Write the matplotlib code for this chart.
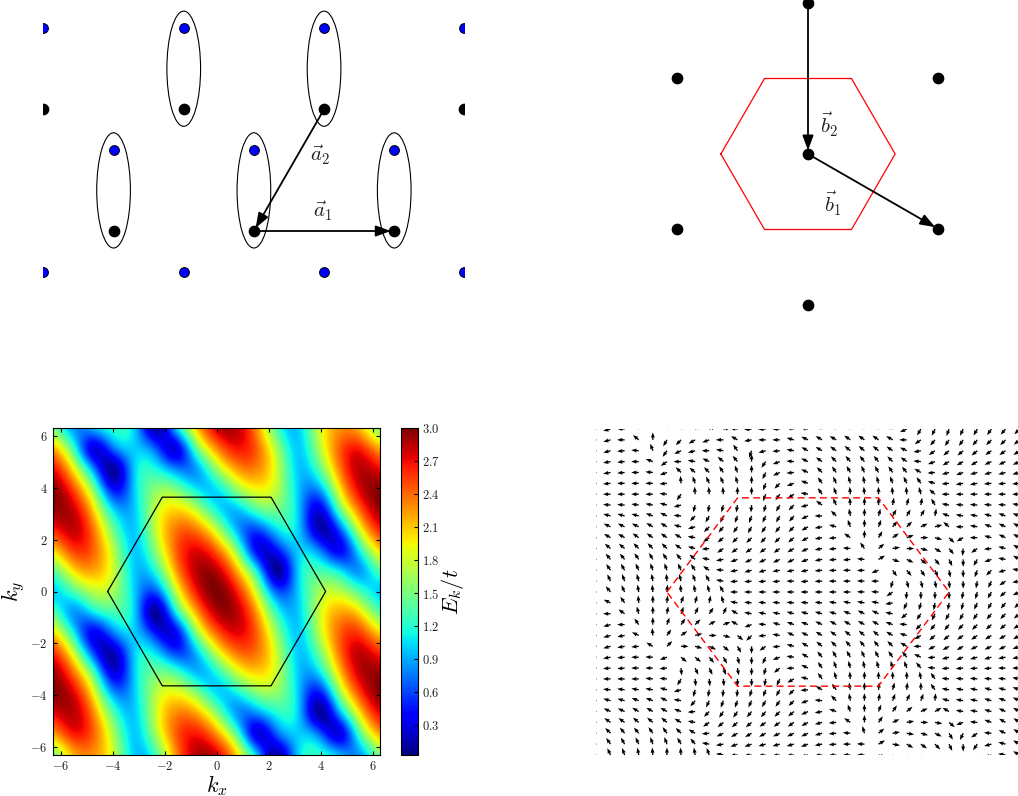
import numpy as np
import matplotlib
matplotlib.use("Agg")
import matplotlib.pyplot as plt
from matplotlib.patches import Ellipse

plt.rcParams["mathtext.fontset"] = "cm"
plt.rcParams["font.family"] = ["cmr10", "DejaVu Sans"]
plt.rcParams["axes.formatter.use_mathtext"] = True

W, H = 1018, 796

# real space lattice (lattice constant = 1)
black_x = [0, 1, 2, 3, 0.5, 1.5, 2.5]
black_y = [0.866, 0.866, 0.866, 0.866, 0, 0, 0]
blue_x = [0, 1, 2, 3, 0.5, 1.5, 2.5, 0, 1, 2, 3]
blue_y = [1.443, 1.443, 1.443, 1.443, 0.577, 0.577, 0.577, -0.289, -0.289, -0.289, -0.289]
dimer_x = [0.5, 1.5, 2.5, 1, 2]
dimer_y = [0.289, 0.289, 0.289, 1.155, 1.155]
a1_start, a1_end = (1.5, 0), (2.5, 0)
a2_start, a2_end = (2, 0.866), (1.5, 0)

# reciprocal lattice
recip_x = [0, -6.28, 6.26, 0, -6.28, 6.26, 0]
recip_y = [7.26, 3.63, 3.63, 0, -3.6, -3.6, -7.26]
b1_start, b1_end = (0, 0), (6.26, -3.6)
b2_start, b2_end = (0, 7.26), (0, 0)
hex_x = [-4.19, -2.09, 2.09, 4.19, 2.09, -2.09, -4.19]
hex_y = [0, 3.63, 3.63, 0, -3.63, -3.63, 0]

# E_k/t read on a pi/4 grid, top row is ky = +2pi, left column kx = -2pi
energy = np.array([
    [1.53, .85, .94, 1.22, 1.0, .12, .94, 2.05, 2.77, 2.85, 2.26, 1.30, 1.0, 1.77, 2.26, 2.15, 1.53],
    [2.19, 1.30, .30, .75, 1.0, .68, .30, 1.39, 2.28, 2.67, 2.41, 1.62, 1.0, 1.65, 2.41, 2.63, 2.19],
    [2.71, 1.96, .80, .12, 1.0, 1.16, .80, .87, 1.62, 2.23, 2.30, 1.76, 1.0, 1.35, 2.30, 2.84, 2.71],
    [2.98, 2.50, 1.51, .42, 1.0, 1.54, 1.51, 1.11, 1.07, 1.60, 1.93, 1.70, 1.0, .85, 1.93, 2.76, 2.98],
    [2.94, 2.80, 2.04, 1.02, 1.0, 1.74, 2.04, 1.76, 1.16, .98, 1.36, 1.46, 1.0, .30, 1.36, 2.39, 2.94],
    [2.61, 2.82, 2.35, 1.43, 1.0, 1.74, 2.35, 2.36, 1.79, .95, .60, 1.05, 1.0, .20, .60, 1.81, 2.61],
    [2.04, 2.53, 2.40, 1.70, 1.0, 1.55, 2.40, 2.74, 2.42, 1.55, .38, .45, 1.0, .80, .38, 1.14, 2.04],
    [1.38, 2.0, 2.19, 1.76, 1.0, 1.19, 2.19, 2.84, 2.85, 2.19, 1.1, .10, 1.0, 1.32, 1.1, .86, 1.37],
    [1.0, 1.34, 1.73, 1.63, 1.0, .65, 1.73, 2.65, 3.0, 2.65, 1.73, .65, 1.0, 1.63, 1.73, 1.34, 1.0],
    [1.37, .86, 1.1, 1.32, 1.0, .10, 1.1, 2.19, 2.85, 2.84, 2.19, 1.19, 1.0, 1.76, 2.19, 2.0, 1.38],
    [2.04, 1.14, .38, .80, 1.0, .45, .38, 1.55, 2.42, 2.74, 2.40, 1.55, 1.0, 1.70, 2.40, 2.53, 2.04],
    [2.61, 1.81, .60, .20, 1.0, 1.05, .60, .95, 1.79, 2.36, 2.35, 1.74, 1.0, 1.43, 2.35, 2.82, 2.61],
    [2.94, 2.39, 1.36, .30, 1.0, 1.46, 1.36, .98, 1.16, 1.76, 2.04, 1.74, 1.0, 1.02, 2.04, 2.80, 2.94],
    [2.98, 2.76, 1.93, .85, 1.0, 1.70, 1.93, 1.60, 1.07, 1.11, 1.51, 1.54, 1.0, .42, 1.51, 2.50, 2.98],
    [2.71, 2.84, 2.30, 1.35, 1.0, 1.76, 2.30, 2.23, 1.62, .87, .80, 1.16, 1.0, .12, .80, 1.96, 2.71],
    [2.19, 2.63, 2.41, 1.65, 1.0, 1.62, 2.41, 2.67, 2.28, 1.39, .30, .68, 1.0, .75, .30, 1.30, 2.19],
    [1.53, 2.15, 2.26, 1.77, 1.0, 1.30, 2.26, 2.85, 2.77, 2.05, .94, .12, 1.0, 1.22, .94, .85, 1.53],
])
energy_ticks = [0.3, 0.6, 0.9, 1.2, 1.5, 1.8, 2.1, 2.4, 2.7, 3.0]
k_ticks = [-6, -4, -2, 0, 2, 4, 6]

# arrow direction in degrees, top row is ky = +2pi, left column kx = -2pi
arrow_deg = np.array([
    [180, 195, 178, 130, 100, 60, 40, 30, 20, 10, 175, 185, 182, 180, 170, 170, 150, 145, 140, 140, 145, 150, 205, 240, 245, 250, 245, 240, 235, 230, 225],
    [180, 195, 180, 140, 90, 240, 225, 210, 200, 180, 150, 190, 180, 180, 165, 155, 150, 150, 145, 145, 145, 150, 180, 215, 230, 235, 235, 230, 225, 225, 220],
    [180, 195, 185, 175, 110, 235, 205, 195, 180, 170, 125, 250, 195, 185, 170, 152, 150, 145, 140, 140, 140, 145, 155, 190, 215, 220, 220, 220, 215, 215, 215],
    [180, 190, 185, 180, 160, 215, 180, 170, 155, 140, 130, 90, 235, 200, 175, 155, 145, 135, 130, 130, 130, 135, 145, 175, 200, 210, 210, 210, 205, 205, 205],
    [180, 190, 185, 180, 175, 200, 135, 140, 135, 125, 110, 90, 245, 205, 185, 155, 135, 125, 120, 115, 120, 125, 130, 150, 185, 195, 200, 195, 195, 195, 195],
    [180, 185, 180, 180, 180, 185, 95, 110, 115, 115, 105, 90, 250, 225, 200, 160, 125, 115, 105, 100, 105, 110, 115, 125, 165, 185, 190, 190, 185, 185, 185],
    [180, 180, 180, 180, 180, 175, 235, 95, 95, 95, 90, 90, 250, 235, 215, 170, 125, 110, 95, 95, 90, 95, 95, 105, 140, 180, 180, 180, 180, 180, 180],
    [180, 175, 175, 172, 170, 165, 195, 255, 260, 255, 260, 265, 255, 240, 225, 195, 145, 115, 95, 90, 90, 80, 75, 80, 120, 170, 175, 175, 175, 175, 170],
    [180, 165, 165, 165, 160, 155, 175, 225, 240, 245, 250, 250, 245, 240, 230, 205, 180, 135, 100, 90, 75, 60, 60, 60, 80, 160, 170, 170, 165, 160, 160],
    [180, 155, 155, 155, 150, 150, 165, 195, 225, 230, 235, 240, 235, 232, 225, 210, 190, 165, 110, 90, 70, 50, 45, 25, 15, 140, 180, 170, 160, 155, 150],
    [180, 150, 150, 145, 145, 145, 150, 170, 215, 220, 225, 225, 225, 225, 220, 208, 190, 185, 145, 90, 60, 35, 20, 0, 345, 315, 210, 180, 165, 155, 150],
    [180, 140, 140, 135, 135, 135, 145, 165, 185, 215, 215, 215, 215, 215, 210, 205, 190, 185, 175, 125, 40, 10, 0, 345, 330, 310, 265, 215, 185, 165, 150],
    [180, 130, 130, 125, 120, 125, 130, 140, 170, 190, 200, 205, 205, 205, 205, 200, 190, 185, 185, 175, 30, 340, 335, 320, 310, 295, 270, 240, 200, 170, 150],
    [180, 125, 120, 115, 110, 110, 115, 125, 145, 175, 190, 195, 195, 190, 190, 190, 185, 182, 180, 182, 200, 305, 310, 305, 295, 280, 270, 250, 225, 195, 170],
    [180, 115, 110, 105, 100, 95, 105, 110, 120, 170, 185, 185, 185, 185, 180, 185, 182, 180, 180, 178, 180, 255, 285, 285, 280, 275, 270, 260, 245, 215, 190],
    [180, 130, 115, 100, 95, 85, 95, 100, 105, 120, 180, 180, 180, 180, 180, 180, 180, 180, 180, 178, 178, 215, 265, 270, 270, 270, 260, 255, 240, 220, 205],
    [180, 155, 125, 95, 90, 85, 70, 75, 80, 105, 170, 175, 175, 175, 175, 175, 175, 172, 170, 170, 170, 190, 245, 255, 260, 260, 255, 245, 240, 230, 225],
    [180, 180, 145, 105, 90, 80, 70, 65, 55, 65, 150, 170, 170, 170, 165, 165, 165, 165, 160, 155, 155, 170, 220, 235, 245, 240, 240, 235, 230, 225, 220],
    [180, 195, 180, 125, 90, 70, 55, 45, 30, 20, 150, 200, 175, 165, 160, 160, 155, 150, 150, 150, 150, 160, 175, 225, 230, 230, 225, 225, 222, 220, 215],
    [180, 195, 190, 155, 95, 55, 35, 15, 0, 345, 320, 225, 185, 170, 155, 155, 150, 145, 140, 140, 140, 150, 165, 210, 220, 220, 215, 215, 212, 210, 210],
    [180, 195, 190, 185, 150, 45, 0, 345, 335, 320, 300, 270, 215, 185, 165, 150, 140, 135, 130, 130, 130, 135, 150, 180, 205, 210, 210, 205, 205, 205, 200],
    [180, 190, 185, 180, 178, 200, 320, 320, 310, 300, 285, 270, 245, 200, 172, 150, 130, 120, 120, 115, 120, 125, 130, 155, 185, 195, 200, 195, 195, 190, 190],
    [180, 185, 185, 180, 180, 185, 275, 295, 295, 290, 280, 270, 255, 219, 182, 155, 125, 110, 105, 100, 105, 105, 110, 130, 175, 185, 185, 185, 185, 180, 180],
    [180, 180, 180, 180, 175, 175, 240, 275, 275, 275, 270, 270, 260, 245, 210, 165, 125, 105, 95, 90, 90, 90, 90, 100, 125, 175, 175, 175, 175, 175, 170],
    [180, 175, 172, 170, 170, 165, 195, 255, 260, 265, 265, 255, 250, 240, 225, 185, 150, 125, 100, 90, 85, 75, 85, 90, 125, 170, 170, 170, 165, 165, 160],
    [180, 165, 165, 160, 160, 155, 170, 230, 245, 250, 250, 245, 240, 235, 225, 200, 175, 135, 100, 90, 80, 70, 65, 70, 85, 165, 170, 170, 165, 160, 155],
    [180, 155, 155, 150, 150, 150, 160, 185, 225, 235, 235, 230, 230, 225, 220, 205, 190, 160, 110, 90, 70, 55, 40, 25, 30, 150, 170, 170, 165, 155, 150],
    [180, 145, 145, 140, 140, 140, 150, 170, 215, 220, 220, 220, 215, 215, 215, 208, 195, 185, 145, 90, 55, 25, 10, 0, 350, 320, 200, 175, 160, 150, 145],
    [180, 135, 130, 130, 125, 125, 135, 150, 185, 205, 210, 210, 208, 205, 205, 205, 195, 185, 175, 105, 40, 10, 350, 345, 335, 300, 245, 215, 175, 155, 145],
    [180, 125, 120, 115, 110, 110, 120, 130, 170, 190, 200, 200, 195, 195, 195, 200, 190, 185, 180, 178, 30, 350, 330, 325, 315, 295, 270, 235, 195, 165, 150],
    [180, 115, 110, 100, 95, 90, 95, 100, 110, 170, 185, 185, 185, 185, 185, 195, 185, 182, 180, 180, 340, 310, 300, 300, 290, 280, 270, 245, 200, 170, 150],
])


def px_axes(fig, left, top, right, bottom):
    # axes placed by pixel edges, y counted from the top of the image
    return fig.add_axes([left / W, 1 - bottom / H, (right - left) / W, (bottom - top) / H])


def vector(ax, start, end):
    ax.annotate("", xy=end, xytext=start,
                arrowprops=dict(arrowstyle="-|>,head_length=0.6,head_width=0.22", color="black", lw=1.3,
                                mutation_scale=15, shrinkA=0, shrinkB=2.5),
                zorder=2)


def main():
    fig = plt.figure(figsize=(W / 100, H / 100), dpi=100)

    # real space
    ax = px_axes(fig, 43.4, 0, 464.4, 300)
    ax.set_xlim(0, 3)
    ax.set_ylim(-0.491, 1.644)
    ax.axis("off")
    for x, y in zip(dimer_x, dimer_y):
        ax.add_patch(Ellipse((x, y), 0.24, 0.82, fill=False, ec="black", lw=0.8, zorder=1))
    vector(ax, a1_start, a1_end)
    vector(ax, a2_start, a2_end)
    ax.scatter(black_x, black_y, s=55, c="black", zorder=3)
    ax.scatter(blue_x, blue_y, s=50, c="#0000ff", edgecolors="black", linewidths=0.7, zorder=3)
    ax.text(1.99, 0.14, r"$\vec{a}_1$", fontsize=15, ha="center", va="center", color="#222222")
    ax.text(1.97, 0.54, r"$\vec{a}_2$", fontsize=15, ha="center", va="center", color="#222222")

    # reciprocal space
    ax = px_axes(fig, 595, 0, 1018, 310)
    ax.set_xlim((595 - 808) / 20.8, (1018 - 808) / 20.8)
    ax.set_ylim((154 - 310) / 20.8, 154 / 20.8)
    ax.axis("off")
    ax.plot(hex_x, hex_y, color="red", lw=0.9, zorder=1)
    vector(ax, b1_start, b1_end)
    vector(ax, b2_start, b2_end)
    ax.scatter(recip_x, recip_y, s=55, c="black", zorder=3, clip_on=False)
    ax.text(1.22, -2.39, r"$\vec{b}_1$", fontsize=15, ha="center", va="center", color="#222222")
    ax.text(1.03, 1.39, r"$\vec{b}_2$", fontsize=15, ha="center", va="center", color="#222222")

    # dispersion
    ax = px_axes(fig, 53.3, 428.3, 380, 754.7)
    pad = np.pi / 8
    im = ax.imshow(energy, cmap="jet", vmin=0.03, vmax=3.0, aspect="auto",
                   interpolation="spline36", interpolation_stage="data",
                   extent=[-2 * np.pi - pad, 2 * np.pi + pad, -2 * np.pi - pad, 2 * np.pi + pad])
    ax.plot(hex_x, hex_y, color="black", lw=0.9)
    ax.set_xlim(-6.28, 6.28)
    ax.set_ylim(-6.28, 6.28)
    ax.set_xticks(k_ticks, [f"${v}$" for v in k_ticks])
    ax.set_yticks(k_ticks, [f"${v}$" for v in k_ticks])
    ax.tick_params(direction="in", top=True, right=True, length=3, width=0.8,
                   labelsize=9, pad=4, labelcolor="#222222")
    ax.set_xlabel(r"$k_x$", fontsize=16, labelpad=0)
    ax.set_ylabel(r"$k_y$", fontsize=16, labelpad=2)

    cax = px_axes(fig, 401, 428.3, 417.5, 754.7)
    cbar = fig.colorbar(im, cax=cax, ticks=energy_ticks)
    cbar.ax.set_yticklabels([f"${v:.1f}$" for v in energy_ticks])
    cbar.ax.tick_params(direction="in", length=3, width=0.8, labelsize=9, pad=3, labelcolor="#222222")
    cbar.set_label(r"$E_k/t$", fontsize=16, labelpad=0)

    # vector field
    ax = px_axes(fig, 596.4, 429, 1019.6, 755)
    ax.set_xlim(-2 * np.pi, 2 * np.pi)
    ax.set_ylim(-2 * np.pi, 2 * np.pi)
    ax.axis("off")
    kx = np.linspace(-2 * np.pi, 2 * np.pi, arrow_deg.shape[1])
    ky = np.linspace(2 * np.pi, -2 * np.pi, arrow_deg.shape[0])
    rad = np.deg2rad(arrow_deg)
    ax.quiver(kx, ky, np.cos(rad), np.sin(rad), angles="uv", pivot="tail",
              scale_units="dots", scale=1 / 7.5, units="dots", width=1.35,
              headwidth=3, headlength=4, headaxislength=3.6, color="black", zorder=1)
    ax.plot(hex_x, hex_y, color="red", lw=1.0, ls=(0, (5, 3)), zorder=2)

    fig.savefig("out.png", dpi=100)


if __name__ == "__main__":
    main()
